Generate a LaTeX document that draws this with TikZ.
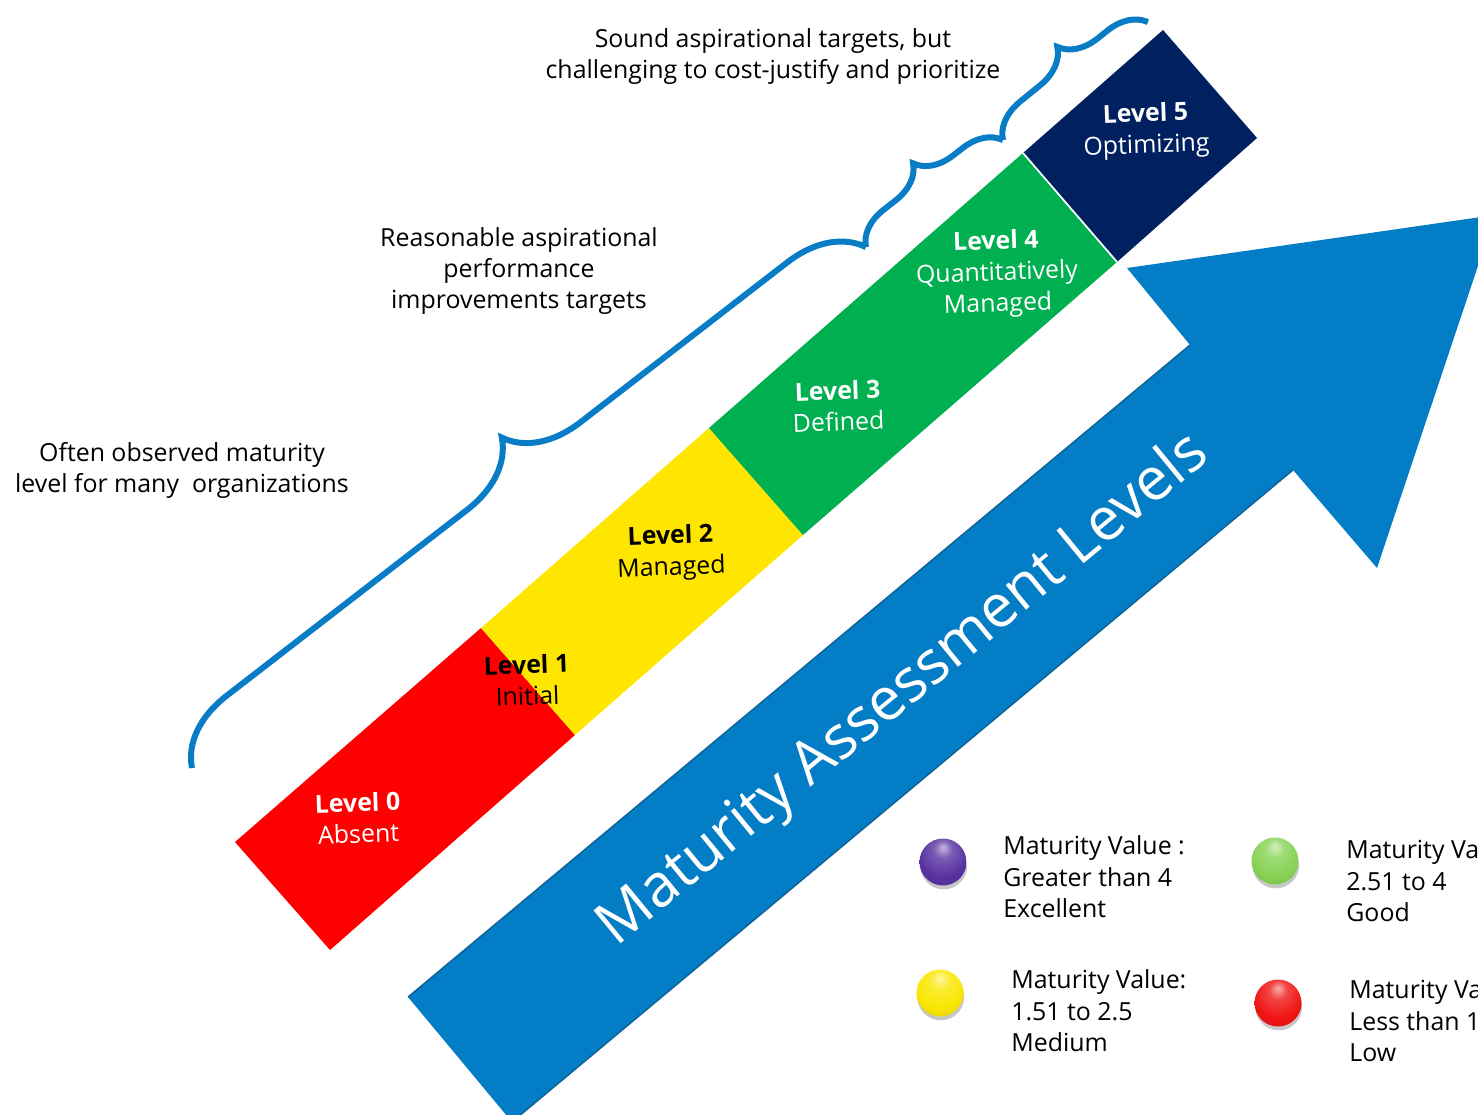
\documentclass[tikz,border=0pt]{standalone}
\usepackage{fontspec}
\setmainfont{Open Sans}
\usetikzlibrary{decorations.pathreplacing,shadows}

\definecolor{lvred}{RGB}{255,0,0}
\definecolor{lvyellow}{RGB}{255,230,0}
\definecolor{lvgreen}{RGB}{0,176,80}
\definecolor{lvnavy}{RGB}{0,32,96}
\definecolor{arrowblue}{RGB}{3,125,197}
\definecolor{arrowedge}{RGB}{14,96,150}
\definecolor{braceblue}{RGB}{8,125,198}
\definecolor{ballpurple}{RGB}{88,50,160}
\definecolor{ballgreen}{RGB}{135,210,85}
\definecolor{ballyellow}{RGB}{250,230,0}
\definecolor{ballred}{RGB}{240,20,20}
\colorlet{ballcol}{ballpurple}

% glossy sphere: light spot near the top, slightly darker rim
\pgfdeclareradialshading[ballcol]{softball}{\pgfqpoint{0bp}{16bp}}{%
  color(0bp)=(ballcol!35!white); color(10bp)=(ballcol!80!white);
  color(26bp)=(ballcol); color(48bp)=(ballcol!82!black);
  color(70bp)=(ballcol!60!black)}

% 1 unit = 0.02cm, y axis pointing down
\newcommand\bodysize{\fontsize{14.17pt}{17.86pt}\selectfont}
\newcommand\titlesize{\fontsize{34pt}{40pt}\selectfont}

\begin{document}
\begin{tikzpicture}[x=0.02cm, y=-0.02cm,
  note/.style={font=\bodysize, align=center, inner sep=0pt, text=black},
  lvlabel/.style={font=\bodysize, align=center, inner sep=0pt, rotate=2},
  legendtext/.style={font=\bodysize, align=left, inner sep=0pt, anchor=west, text=black},
  bracestyle/.style={draw=braceblue, line width=0.12cm, decorate},
  ballnode/.style={circle, inner sep=0pt, minimum size=0.94cm,
    /utils/exec={\colorlet{ballcol}{#1}}, shading=softball,
    drop shadow={shadow xshift=0.4pt, shadow yshift=-2.2pt, opacity=0.22, fill=black}},
]
\useasboundingbox (0,0) rectangle (1478,1115);
\begin{scope}
\clip (0,0) rectangle (1478,1115);

% ---- big arrow ----
\fill[arrowblue] (408,997) -- (1190,345) -- (1127,268) -- (1495,215)
  -- (1377,568) -- (1293,470) -- (512,1122) -- cycle;
\draw[arrowedge, line width=0.8pt] (408,997) -- (1190,345);
\draw[arrowedge, line width=0.8pt] (1293,470) -- (512,1122);
\node[rotate=39.4, anchor=base, font=\titlesize, text=white, inner sep=0pt]
  (title) at (914,703) {Maturity Assessment Levels};

% ---- maturity staircase band ----
\fill[lvred]    (235,842) -- (481,628) -- (575,735) -- (330,950) -- cycle;
\fill[lvyellow] (481,628) -- (709,428) -- (803,535) -- (575,735) -- cycle;
\fill[lvgreen]  (709,428) -- (1023,153) -- (1117,262) -- (803,535) -- cycle;
\fill[lvnavy]   (1023,153) -- (1163,30) -- (1257,138) -- (1117,262) -- cycle;
\draw[white, line width=1pt] (1023,153) -- (1117,262);

\node[lvlabel, text=white] (lv0) at (358,818) {\textbf{Level 0}\\Absent};
\node[lvlabel, text=black] (lv1) at (527,680) {\textbf{Level 1}\\Initial};
\node[lvlabel, text=black] (lv2) at (671,553) {\textbf{Level 2}\\Managed};
\node[lvlabel, text=white] (lv3) at (838,406) {\textbf{Level 3}\\Defined};
\node[lvlabel, text=white] (lv4) at (997,274) {\textbf{Level 4}\\Quantitatively\\Managed};
\node[lvlabel, text=white] (lv5) at (1146,131) {\textbf{Level 5}\\Optimizing};

% ---- braces ----
\coordinate (br0) at (192,768);
\coordinate (br1) at (866,247);
\coordinate (br2) at (1003,140);
\coordinate (br3) at (1148,22);
\draw[bracestyle, decoration={brace, amplitude=1.44cm, aspect=0.525}] (br0) -- (br1);
\draw[bracestyle, decoration={brace, amplitude=0.74cm, aspect=0.51}] (br1) -- (br2);
\draw[bracestyle, decoration={brace, amplitude=0.76cm, aspect=0.54}] (br2) -- (br3);

% ---- annotations ----
\node[note] (ntop) at (773,56.5) {Sound aspirational targets, but\\challenging to cost-justify and prioritize};
\node[note] (nmid) at (519,271) {Reasonable aspirational\\performance\\improvements targets};
\node[note] (nleft) at (182,470.5) {Often observed maturity\\level for many\ \ organizations};

% ---- legend ----
\node[ballnode=ballpurple] (bpurple) at (943,862) {};
\node[ballnode=ballgreen]  (bgreen)  at (1275,861) {};
\node[ballnode=ballyellow] (byellow) at (940,993) {};
\node[ballnode=ballred]    (bred)    at (1278,1003) {};

\node[legendtext] (tpurple) at (1003,877) {Maturity Value :\\Greater than 4\\Excellent};
\node[legendtext] (tgreen)  at (1346,881) {Maturity Va\\2.51 to 4\\Good};
\node[legendtext] (tyellow) at (1011,1011) {Maturity Value:\\1.51 to 2.5\\Medium};
\node[legendtext] (tred)    at (1349,1021) {Maturity Va\\Less than 1\\Low};
\end{scope}
\end{tikzpicture}
\end{document}
